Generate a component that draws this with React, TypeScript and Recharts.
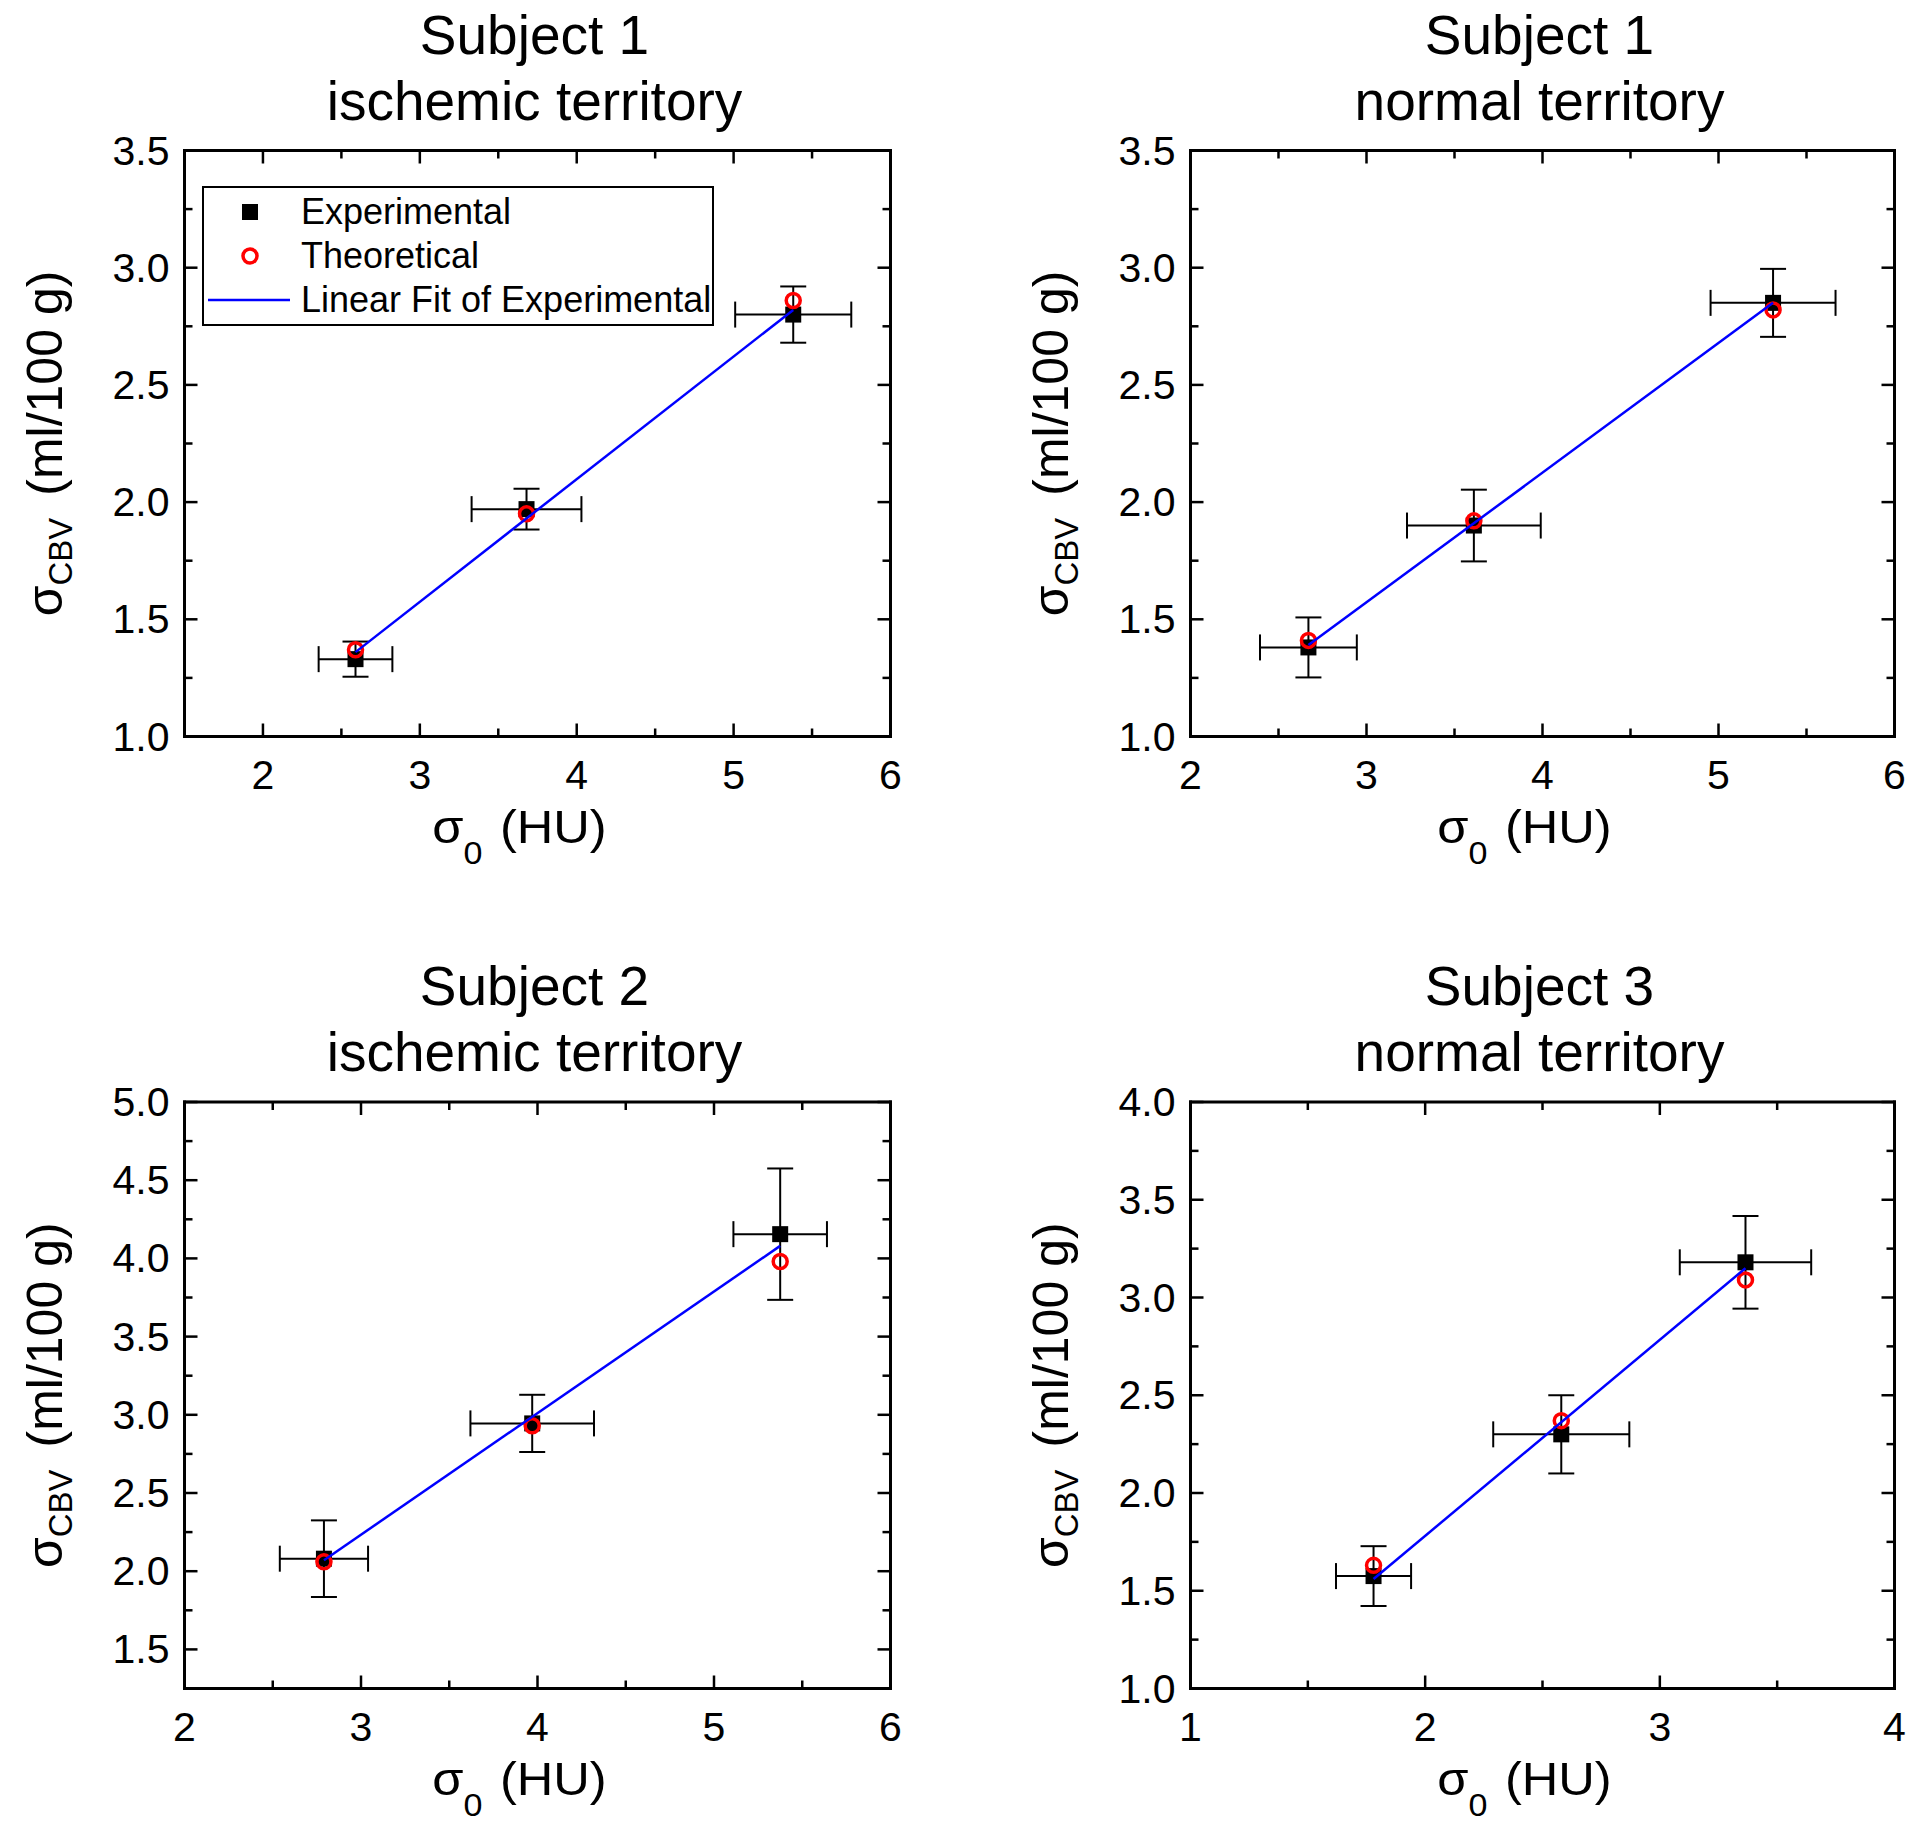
import React from "react";
import { ScatterChart, Scatter, XAxis, YAxis, ErrorBar, Legend } from "recharts";

const FONT = '"Liberation Sans", Arial, Helvetica, sans-serif';

// Subject 1, ischemic territory
const s1IschX = [2.59, 3.68, 5.38];
const s1IschExpY = [1.33, 1.97, 2.8];
const s1IschTheoY = [1.37, 1.95, 2.86];
const s1IschXErr = [0.235, 0.35, 0.37];
const s1IschYErr = [0.075, 0.087, 0.12];
const s1IschFitX = [2.59, 5.38];
const s1IschFitY = [1.36, 2.82];

// Subject 1, normal territory
const s1NormX = [2.67, 3.61, 5.31];
const s1NormExpY = [1.38, 1.9, 2.85];
const s1NormTheoY = [1.41, 1.92, 2.82];
const s1NormXErr = [0.275, 0.38, 0.355];
const s1NormYErr = [0.128, 0.153, 0.145];
const s1NormFitX = [2.67, 5.31];
const s1NormFitY = [1.39, 2.85];

// Subject 2, ischemic territory
const s2IschX = [2.79, 3.97, 5.375];
const s2IschExpY = [2.08, 2.945, 4.155];
const s2IschTheoY = [2.06, 2.93, 3.98];
const s2IschXErr = [0.25, 0.35, 0.265];
const s2IschYErr = [0.245, 0.183, 0.42];
const s2IschFitX = [2.79, 5.375];
const s2IschFitY = [2.07, 4.08];

// Subject 3, normal territory
const s3NormX = [1.78, 2.58, 3.365];
const s3NormExpY = [1.575, 2.3, 3.18];
const s3NormTheoY = [1.63, 2.37, 3.09];
const s3NormXErr = [0.16, 0.29, 0.28];
const s3NormYErr = [0.153, 0.2, 0.237];
const s3NormFitX = [1.78, 3.365];
const s3NormFitY = [1.56, 3.15];

// tick values
const ticksX26Major = [2, 3, 4, 5, 6];
const ticksX15Minor = [2.5, 3.5, 4.5, 5.5];
const ticksX14Major = [1, 2, 3, 4];
const ticksX14Minor = [1.5, 2.5, 3.5];
const ticksY135Major = [1.0, 1.5, 2.0, 2.5, 3.0, 3.5];
const ticksY135Minor = [1.25, 1.75, 2.25, 2.75, 3.25];
const ticksY15Major = [1.5, 2.0, 2.5, 3.0, 3.5, 4.0, 4.5, 5.0];
const ticksY15Minor = [1.75, 2.25, 2.75, 3.25, 3.75, 4.25, 4.75];
const ticksY14Major = [1.0, 1.5, 2.0, 2.5, 3.0, 3.5, 4.0];
const ticksY14Minor = [1.25, 1.75, 2.25, 2.75, 3.25, 3.75];

const SERIES_NAMES = ["Experimental", "Theoretical", "Linear Fit of Experimental"];

const MAJOR_LEN = 13;
const MINOR_LEN = 8;
const TICK_FONT = 41;

type Side = "bottom" | "top" | "left" | "right";

function makeTick(side: Side, major: number[], fmt?: (v: number) => string) {
  return (props: any) => {
    const { x, y, payload } = props;
    const v = payload.value;
    const isMajor = major.some((m) => Math.abs(m - v) < 1e-9);
    const len = isMajor ? MAJOR_LEN : MINOR_LEN;
    let x2 = x;
    let y2 = y;
    if (side === "bottom") y2 = y - len;
    if (side === "top") y2 = y + len;
    if (side === "left") x2 = x + len;
    if (side === "right") x2 = x - len;
    let label = null;
    if (isMajor && fmt && side === "bottom") {
      label = (
        <text x={x} y={y + 38} textAnchor="middle" dominantBaseline="central" fontSize={TICK_FONT} fontFamily={FONT} fill="#000">
          {fmt(v)}
        </text>
      );
    }
    if (isMajor && fmt && side === "left") {
      label = (
        <text x={x - 15} y={y} textAnchor="end" dominantBaseline="central" fontSize={TICK_FONT} fontFamily={FONT} fill="#000">
          {fmt(v)}
        </text>
      );
    }
    return (
      <g>
        <line x1={x} y1={y} x2={x2} y2={y2} stroke="#000" strokeWidth={2.5} />
        {label}
      </g>
    );
  };
}

const SquareDot = (p: any) => <rect x={p.cx - 8} y={p.cy - 8} width={16} height={16} fill="#000" />;
const RingDot = (p: any) => (
  <circle cx={p.cx} cy={p.cy} r={7} fill="none" stroke="#ff0000" strokeWidth={3.5} />
);
const NoDot = () => <g />;

const byName = (entry: any) => SERIES_NAMES.indexOf(entry.value);

const LegendBox = (props: any) => {
  const payload = [...(props.payload || [])].sort((a: any, b: any) => byName(a) - byName(b));
  return (
    <div
      style={{
        boxSizing: "border-box",
        width: 512,
        height: 140,
        border: "2px solid #000",
        background: "#fff",
        fontFamily: FONT,
        fontSize: 36,
        paddingTop: 2,
      }}
    >
      {payload.map((entry: any, i: number) => (
        <div key={i} style={{ display: "flex", alignItems: "center", height: 44 }}>
          <svg width={97} height={44} style={{ flex: "none" }}>
            {entry.type === "square" && <rect x={38} y={14} width={16} height={16} fill="#000" />}
            {entry.type === "circle" && (
              <circle cx={46} cy={22} r={7} fill="none" stroke="#ff0000" strokeWidth={3.5} />
            )}
            {entry.type === "line" && <line x1={4} y1={22} x2={86} y2={22} stroke="#0000ff" strokeWidth={2.5} />}
          </svg>
          <span style={{ whiteSpace: "nowrap", lineHeight: 1 }}>{entry.value}</span>
        </div>
      ))}
    </div>
  );
};

interface PanelProps {
  left: number;
  top: number;
  width: number;
  height: number;
  plot: { l: number; t: number; r: number; b: number };
  title: [string, string];
  xDomain: [number, number];
  yDomain: [number, number];
  xMajor: number[];
  xMinor: number[];
  yMajor: number[];
  yMinor: number[];
  x: number[];
  expY: number[];
  theoY: number[];
  xErr: number[];
  yErr: number[];
  fitX: number[];
  fitY: number[];
  legend?: boolean;
}

function Panel(p: PanelProps) {
  // each axis takes 1px of room, so margins are reduced by 1
  const margin = {
    left: p.plot.l - p.left - 1,
    top: p.plot.t - p.top - 1,
    right: p.left + p.width - p.plot.r - 1,
    bottom: p.top + p.height - p.plot.b - 1,
  };
  const expData = p.x.map((x, i) => ({ x, y: p.expY[i], ex: p.xErr[i], ey: p.yErr[i] }));
  const theoData = p.x.map((x, i) => ({ x, y: p.theoY[i] }));
  const fitData = p.fitX.map((x, i) => ({ x, y: p.fitY[i] }));
  const xTicks = [...p.xMajor, ...p.xMinor].sort((a, b) => a - b);
  const yTicks = [...p.yMajor, ...p.yMinor].sort((a, b) => a - b);
  const frame = { stroke: "#000", strokeWidth: 3, strokeLinecap: "square" as const };

  // local coordinates of the plot box
  const pl = p.plot.l - p.left;
  const pt = p.plot.t - p.top;
  const pr = p.plot.r - p.left;
  const pb = p.plot.b - p.top;
  const cx = (pl + pr) / 2;
  const cy = (pt + pb) / 2;

  return (
    <div style={{ position: "absolute", left: p.left, top: p.top, width: p.width, height: p.height }}>
      <ScatterChart width={p.width} height={p.height} margin={margin}>
        <XAxis
          type="number"
          dataKey="x"
          domain={p.xDomain}
          ticks={xTicks}
          interval={0}
          allowDataOverflow
          height={1}
          tickSize={0}
          tickMargin={0}
          axisLine={frame}
          tickLine={false}
          tick={makeTick("bottom", p.xMajor, (v) => String(v))}
        />
        <XAxis
          xAxisId="top"
          orientation="top"
          type="number"
          dataKey="x"
          domain={p.xDomain}
          ticks={xTicks}
          interval={0}
          allowDataOverflow
          height={1}
          tickSize={0}
          tickMargin={0}
          axisLine={frame}
          tickLine={false}
          tick={makeTick("top", p.xMajor)}
        />
        <YAxis
          type="number"
          dataKey="y"
          domain={p.yDomain}
          ticks={yTicks}
          interval={0}
          allowDataOverflow
          width={1}
          tickSize={0}
          tickMargin={0}
          axisLine={frame}
          tickLine={false}
          tick={makeTick("left", p.yMajor, (v) => v.toFixed(1))}
        />
        <YAxis
          yAxisId="right"
          orientation="right"
          type="number"
          dataKey="y"
          domain={p.yDomain}
          ticks={yTicks}
          interval={0}
          allowDataOverflow
          width={1}
          tickSize={0}
          tickMargin={0}
          axisLine={frame}
          tickLine={false}
          tick={makeTick("right", p.yMajor)}
        />
        <Scatter
          name={SERIES_NAMES[0]}
          data={expData}
          shape={SquareDot}
          fill="#000"
          legendType="square"
          isAnimationActive={false}
        >
          <ErrorBar dataKey="ex" direction="x" width={13} stroke="#000" strokeWidth={2} />
          <ErrorBar dataKey="ey" direction="y" width={13} stroke="#000" strokeWidth={2} />
        </Scatter>
        <Scatter
          name={SERIES_NAMES[1]}
          data={theoData}
          shape={RingDot}
          fill="#ff0000"
          legendType="circle"
          isAnimationActive={false}
        />
        <Scatter
          name={SERIES_NAMES[2]}
          data={fitData}
          shape={NoDot}
          fill="#0000ff"
          line={{ stroke: "#0000ff", strokeWidth: 2.5 }}
          legendType="line"
          isAnimationActive={false}
        />
        {p.legend && (
          <Legend
            layout="vertical"
            align="center"
            verticalAlign="middle"
            itemSorter={byName}
            wrapperStyle={{ left: 202 - p.left, top: 186 - p.top, width: 512, height: 140 }}
            content={LegendBox}
          />
        )}
      </ScatterChart>
      <svg
        width={p.width}
        height={p.height}
        style={{ position: "absolute", left: 0, top: 0, pointerEvents: "none" }}
      >
        <text x={cx - 3} y={pt - 116} textAnchor="middle" dominantBaseline="central" fontSize={55} fontFamily={FONT}>
          {p.title[0]}
        </text>
        <text x={cx - 3} y={pt - 50} textAnchor="middle" dominantBaseline="central" fontSize={55} fontFamily={FONT}>
          {p.title[1]}
        </text>
        <g transform={`translate(${cx - 18},${pb + 106}) scale(1.1,1)`}>
          <text x={0} y={0} textAnchor="middle" fontSize={46} fontFamily={FONT}>
            <tspan>σ</tspan>
            <tspan fontSize={31} dy={21}>0</tspan>
            <tspan dy={-21} dx={3}> (HU)</tspan>
          </text>
        </g>
        <g transform={`translate(${pl - 122.5},${cy})  rotate(-90)`}>
          <text x={0} y={0} textAnchor="middle" fontSize={50} fontFamily={FONT}>
            <tspan>σ</tspan>
            <tspan fontSize={33} dy={10}>CBV</tspan>
            <tspan dy={-10} dx={8}> (ml/100 g)</tspan>
          </text>
        </g>
      </svg>
    </div>
  );
}

export default function App() {
  return (
    <div style={{ position: "absolute", left: 0, top: 0, width: 1920, height: 1829, background: "#fff" }}>
      <Panel
        left={0}
        top={0}
        width={960}
        height={915}
        plot={{ l: 184.5, t: 150.5, r: 890.5, b: 736.5 }}
        title={["Subject 1", "ischemic territory"]}
        xDomain={[1.5, 6]}
        yDomain={[1, 3.5]}
        xMajor={ticksX26Major}
        xMinor={ticksX15Minor}
        yMajor={ticksY135Major}
        yMinor={ticksY135Minor}
        x={s1IschX}
        expY={s1IschExpY}
        theoY={s1IschTheoY}
        xErr={s1IschXErr}
        yErr={s1IschYErr}
        fitX={s1IschFitX}
        fitY={s1IschFitY}
        legend
      />
      <Panel
        left={960}
        top={0}
        width={960}
        height={915}
        plot={{ l: 1190.5, t: 150.5, r: 1894.5, b: 736.5 }}
        title={["Subject 1", "normal territory"]}
        xDomain={[2, 6]}
        yDomain={[1, 3.5]}
        xMajor={ticksX26Major}
        xMinor={ticksX15Minor}
        yMajor={ticksY135Major}
        yMinor={ticksY135Minor}
        x={s1NormX}
        expY={s1NormExpY}
        theoY={s1NormTheoY}
        xErr={s1NormXErr}
        yErr={s1NormYErr}
        fitX={s1NormFitX}
        fitY={s1NormFitY}
      />
      <Panel
        left={0}
        top={915}
        width={960}
        height={914}
        plot={{ l: 184.5, t: 1102, r: 890.5, b: 1688.5 }}
        title={["Subject 2", "ischemic territory"]}
        xDomain={[2, 6]}
        yDomain={[1.25, 5]}
        xMajor={ticksX26Major}
        xMinor={ticksX15Minor}
        yMajor={ticksY15Major}
        yMinor={ticksY15Minor}
        x={s2IschX}
        expY={s2IschExpY}
        theoY={s2IschTheoY}
        xErr={s2IschXErr}
        yErr={s2IschYErr}
        fitX={s2IschFitX}
        fitY={s2IschFitY}
      />
      <Panel
        left={960}
        top={915}
        width={960}
        height={914}
        plot={{ l: 1190.5, t: 1102, r: 1894.5, b: 1688.5 }}
        title={["Subject 3", "normal territory"]}
        xDomain={[1, 4]}
        yDomain={[1, 4]}
        xMajor={ticksX14Major}
        xMinor={ticksX14Minor}
        yMajor={ticksY14Major}
        yMinor={ticksY14Minor}
        x={s3NormX}
        expY={s3NormExpY}
        theoY={s3NormTheoY}
        xErr={s3NormXErr}
        yErr={s3NormYErr}
        fitX={s3NormFitX}
        fitY={s3NormFitY}
      />
    </div>
  );
}
